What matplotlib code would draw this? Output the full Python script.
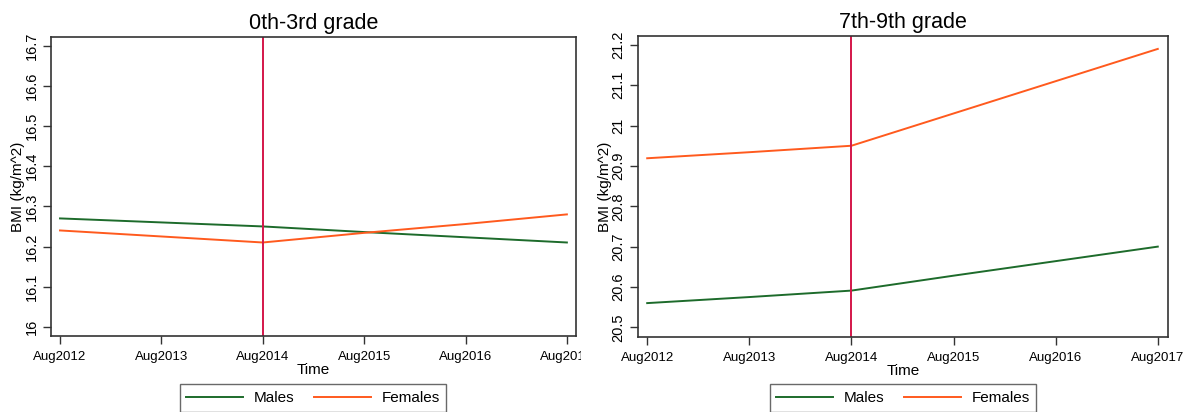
import matplotlib
matplotlib.use("Agg")
import matplotlib.pyplot as plt
from matplotlib.transforms import Bbox
from matplotlib.lines import Line2D

plt.rcParams['font.family'] = ['Liberation Sans', 'DejaVu Sans']

time_labels = ["Aug2012", "Aug2013", "Aug2014", "Aug2015", "Aug2016", "Aug2017"]
intervention_label = "Aug2014"

titles = ["0th-3rd grade", "7th-9th grade"]
males_early = [16.27, 16.26, 16.25, 16.236, 16.223, 16.21]
females_early = [16.24, 16.225, 16.21, 16.234, 16.256, 16.28]
males_late = [20.56, 20.575, 20.591, 20.628, 20.664, 20.70]
females_late = [20.919, 20.934, 20.95, 21.03, 21.11, 21.19]

yticks_early = [16.0, 16.1, 16.2, 16.3, 16.4, 16.5, 16.6, 16.7]
ytick_labels_early = ["16", "16.1", "16.2", "16.3", "16.4", "16.5", "16.6", "16.7"]
yticks_late = [20.5, 20.6, 20.7, 20.8, 20.9, 21.0, 21.1, 21.2]
ytick_labels_late = ["20.5", "20.6", "20.7", "20.8", "20.9", "21", "21.1", "21.2"]

W, H = 1184, 412
fig = plt.figure(figsize=(W / 100, H / 100), dpi=100)

c_m = "#1d6b2b"
c_f = "#ff5a1e"
c_v = "#d4164a"


def px_axes(l, r, t, b):
    return fig.add_axes([l / W, 1 - b / H, (r - l) / W, (b - t) / H])


panels = [
    dict(box=(51, 576, 37, 336), xlim=(-0.089, 5.09), ylim=(15.977, 16.722),
         m=males_early, f=females_early, yt=yticks_early, ytl=ytick_labels_early,
         title=titles[0], clipx=581, legx=313),
    dict(box=(638, 1168, 36, 337), xlim=(-0.09, 5.1), ylim=(20.476, 21.222),
         m=males_late, f=females_late, yt=yticks_late, ytl=ytick_labels_late,
         title=titles[1], clipx=W, legx=903),
]

x = list(range(len(time_labels)))
vx = time_labels.index(intervention_label)

for p in panels:
    ax = px_axes(*p["box"])
    ax.plot(x, p["m"], color=c_m, lw=1.4, label="Males")
    ax.plot(x, p["f"], color=c_f, lw=1.4, label="Females")
    ax.axvline(vx, color=c_v, lw=1.4)
    ax.set_xlim(*p["xlim"])
    ax.set_ylim(*p["ylim"])
    ax.set_xticks(x)
    ax.set_xticklabels(time_labels, fontsize=9.5)
    ax.set_yticks(p["yt"])
    ax.set_yticklabels(p["ytl"], fontsize=10.5, rotation=90, va="center")
    ax.tick_params(axis="both", direction="out", length=6, width=1.0, color="#333333")
    ax.tick_params(axis="x", pad=5)
    ax.tick_params(axis="y", pad=3)
    for s in ax.spines.values():
        s.set_color("#333333")
        s.set_linewidth(1.2)
    ax.set_title(p["title"], fontsize=15.5, pad=6)
    ax.set_xlabel("Time", fontsize=11, labelpad=0)
    ax.set_ylabel("BMI (kg/m^2)", fontsize=11)
    ax.yaxis.set_label_coords(-0.049, 0.5)
    for lab in ax.get_xticklabels():
        lab.set_clip_on(True)
        lab.set_clip_box(Bbox([[0, 0], [p["clipx"], H]]))
    handles = [Line2D([], [], color=c_m, lw=1.4), Line2D([], [], color=c_f, lw=1.4)]
    leg = fig.legend(handles, ["Males", "Females"], loc="upper center",
                     bbox_to_anchor=(p["legx"] / W, 1 - 384 / H),
                     ncol=2, fontsize=11, frameon=True, fancybox=False,
                     edgecolor="#444444", handlelength=3.7, columnspacing=1.3,
                     borderpad=0.45, handletextpad=0.7, borderaxespad=0)
    leg.get_frame().set_linewidth(1.0)

fig.savefig("out.png", dpi=100)
